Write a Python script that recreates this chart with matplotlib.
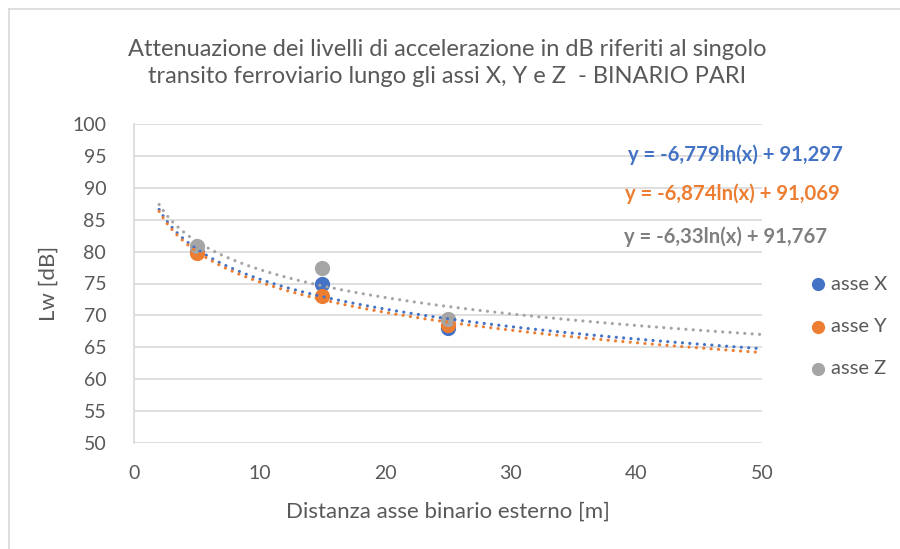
import numpy as np
import matplotlib
matplotlib.use("Agg")
import matplotlib.pyplot as plt
from matplotlib.lines import Line2D

plt.rcParams['font.family'] = ['Lato', 'DejaVu Sans']

# Data
distances = [5, 15, 25]
asse_x = [80.0, 75.0, 68.1]
asse_y = [79.8, 73.0, 68.5]
asse_z = [80.8, 77.4, 69.5]
series_names = ["asse X", "asse Y", "asse Z"]
# Logarithmic trendline coefficients (y = a ln(x) + b) shown in the chart
coef_a = [-6.779, -6.874, -6.33]
coef_b = [91.297, 91.069, 91.767]
equations = ["y = -6,779ln(x) + 91,297", "y = -6,874ln(x) + 91,069", "y = -6,33ln(x) + 91,767"]
trend_range = [2, 50]
x_ticks = [0, 10, 20, 30, 40, 50]
y_ticks = [50, 55, 60, 65, 70, 75, 80, 85, 90, 95, 100]

colors = ["#4472C4", "#ED7D31", "#A5A5A5"]
eq_colors = ["#4472C4", "#ED7D31", "#7F7F7F"]
text_col = "#595959"
grid_col = "#D9D9D9"

W, H = 900, 549
fig = plt.figure(figsize=(W / 100, H / 100), dpi=100)
fig.patch.set_facecolor("white")

# chart border
fig.add_artist(Line2D([8.5 / W, 8.5 / W], [0, 1 - 8.5 / H], transform=fig.transFigure, color=grid_col, lw=1.2))
fig.add_artist(Line2D([8.5 / W, 1], [1 - 8.5 / H, 1 - 8.5 / H], transform=fig.transFigure, color=grid_col, lw=1.2))

left, right, top, bottom = 134, 762, 124, 443
ax = fig.add_axes([left / W, 1 - bottom / H, (right - left) / W, (bottom - top) / H])
ax.set_xlim(0, 50)
ax.set_ylim(50, 100)
ax.set_xticks(x_ticks)
ax.set_yticks(y_ticks)
ax.tick_params(length=0, labelsize=14, colors=text_col)
ax.tick_params(axis='y', pad=20)
ax.tick_params(axis='x', pad=16)
for s in ["top", "right", "bottom"]:
    ax.spines[s].set_visible(False)
ax.spines["left"].set_color(grid_col)
ax.spines["left"].set_linewidth(1.2)
ax.grid(axis='y', color=grid_col, lw=1.2)
ax.set_axisbelow(True)

ax.set_xlabel("Distanza asse binario esterno [m]", fontsize=16, color=text_col, labelpad=14)
ax.set_ylabel("Lw [dB]", fontsize=16, color=text_col, labelpad=10)

for vals, col, name in zip([asse_x, asse_y, asse_z], colors, series_names):
    ax.scatter(distances, vals, s=120, color=col, zorder=3, label=name, linewidths=0)

xt = np.linspace(trend_range[0], trend_range[1], 300)
for a, b, col in zip(coef_a, coef_b, colors):
    ax.plot(xt, a * np.log(xt) + b, color=col, lw=2.3, linestyle=(0, (0.01, 2.3)),
            dash_capstyle='round', zorder=4)

# equations
eq_pos = [(735, 155), (732, 194), (726, 237)]
for (px, py), txt, col in zip(eq_pos, equations, eq_colors):
    fig.text(px / W, 1 - py / H, txt, color=col, fontsize=14.6, fontweight='bold',
             ha='center', va='center')

# legend
leg_y = [284, 327, 369]
for py, col, name in zip(leg_y, colors, series_names):
    fig.add_artist(Line2D([818 / W], [1 - py / H], marker='o', markersize=9.5, color=col,
                          markeredgewidth=0, linestyle='none', transform=fig.transFigure))
    fig.text(831 / W, 1 - py / H, name, color=text_col, fontsize=14.5, ha='left', va='center')

fig.text(447 / W, 1 - 63 / H,
         "Attenuazione dei livelli di accelerazione in dB riferiti al singolo\ntransito ferroviario lungo gli assi X, Y e Z  - BINARIO PARI",
         ha='center', va='center', fontsize=17, color=text_col, linespacing=1.4)

fig.savefig("out.png", dpi=100, facecolor="white")
